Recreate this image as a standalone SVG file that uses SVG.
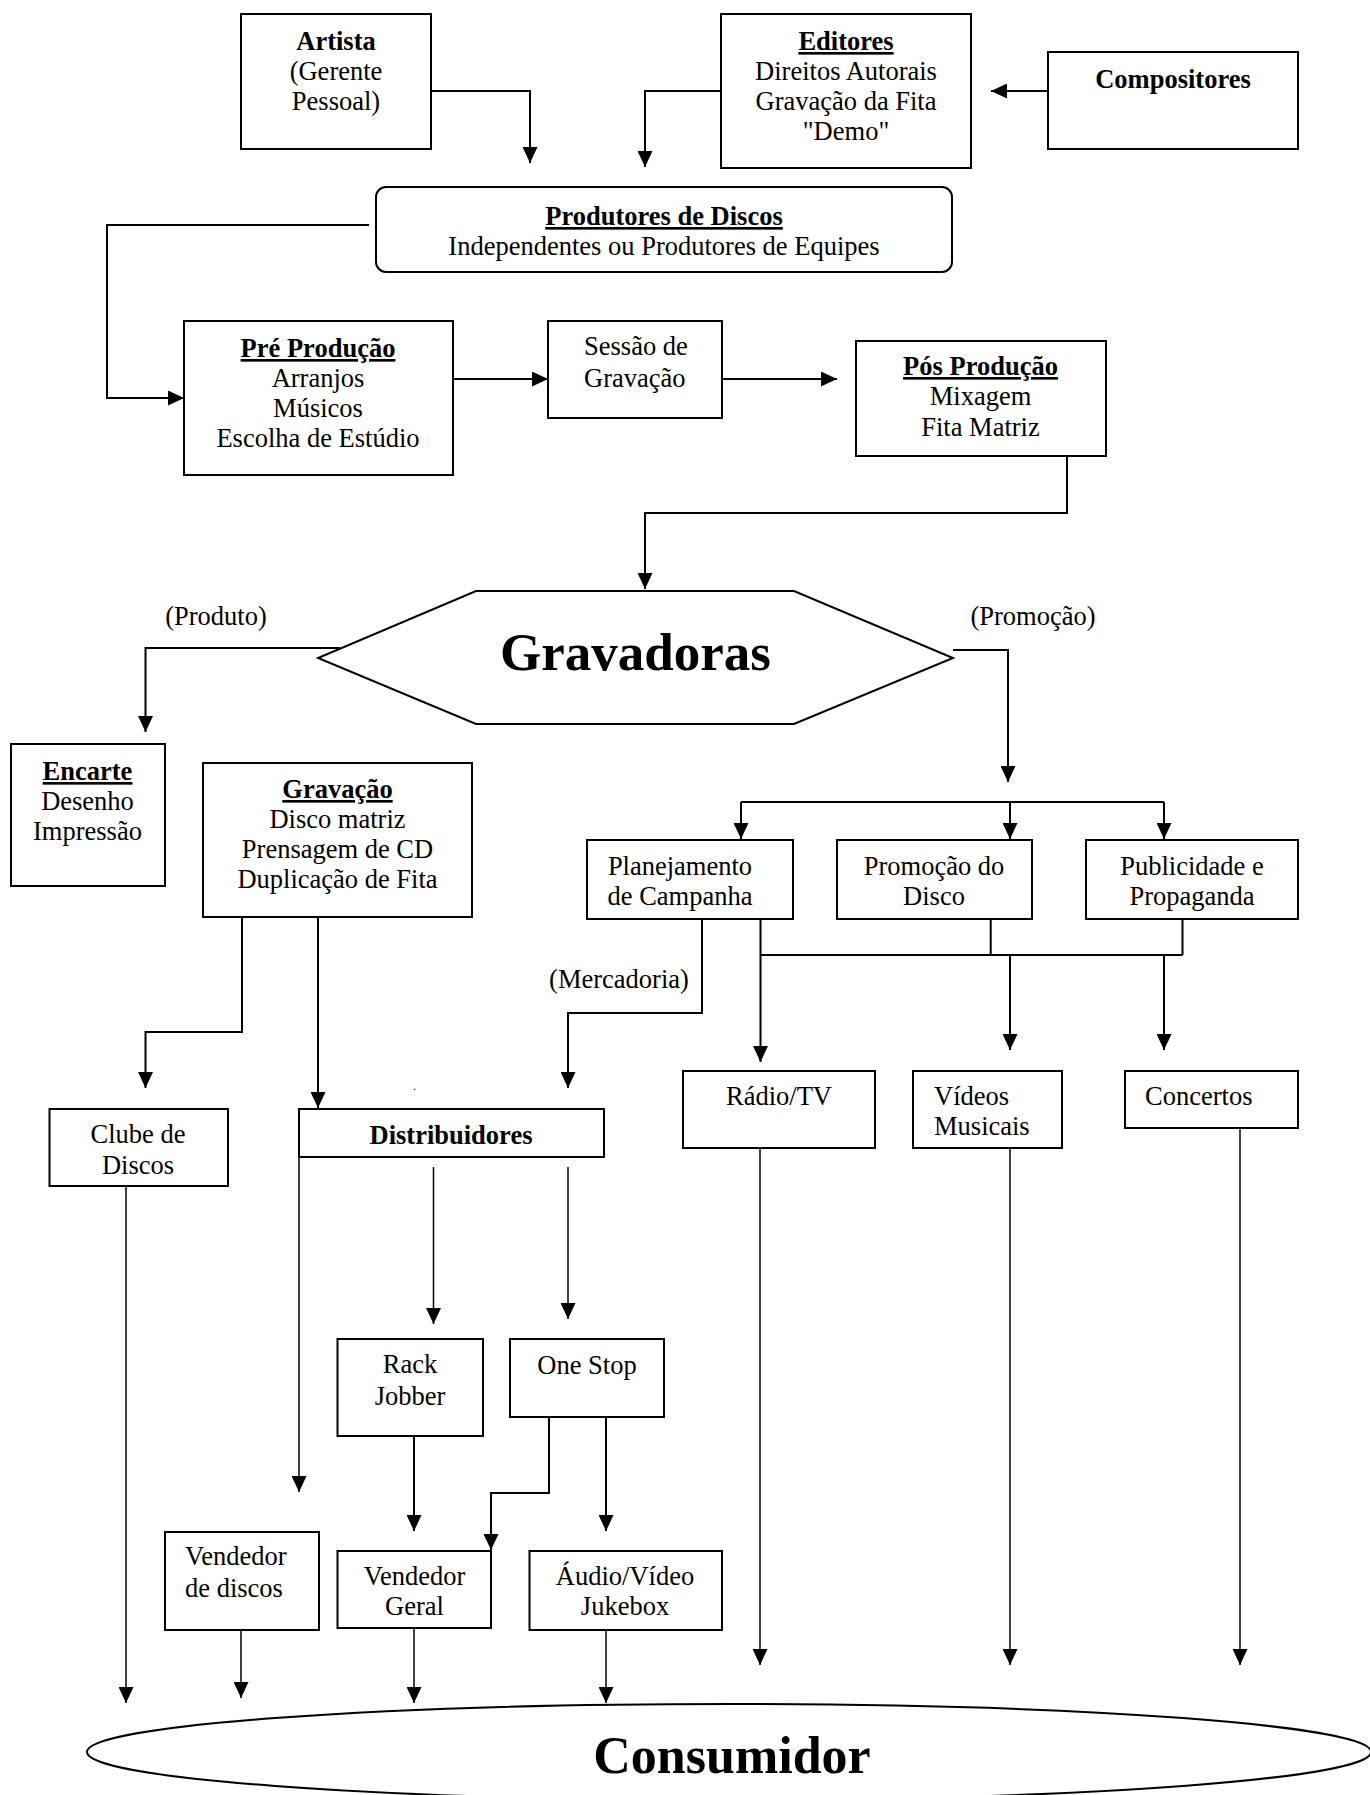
<svg xmlns="http://www.w3.org/2000/svg" width="1370" height="1795" viewBox="0 0 1370 1795">
<defs>
<marker id="ah" markerUnits="userSpaceOnUse" markerWidth="16" markerHeight="15" refX="16" refY="7.5" orient="auto">
<path d="M0,0 L16,7.5 L0,15 z" fill="#000"/>
</marker>
<style>
text{font-family:"Liberation Serif","Times New Roman",serif;font-size:26.5px;fill:#000}
.c{text-anchor:middle}
.b{font-weight:bold}
.u{text-decoration:underline}
.box{fill:#fff;stroke:#000;stroke-width:2}
.ln{fill:none;stroke:#000;stroke-width:2}
.lt{fill:none;stroke:#000;stroke-width:1.5}
.ar{marker-end:url(#ah)}
</style>
</defs>
<rect width="1370" height="1795" fill="#fff"/>

<g id="connectors">
<path class="ln ar" d="M431,91 H530 V163"/>
<path class="ln ar" d="M721,91 H645 V167"/>
<path class="ln ar" d="M1048,91 H991"/>
<path class="ln ar" d="M369,225 H107 V398 H184"/>
<path class="ln ar" d="M453,379 H548"/>
<path class="ln ar" d="M722,379 H837"/>
<path class="ln ar" d="M1067,456 V513 H645 V589"/>
<path class="ln ar" d="M340,648 H145.5 V732"/>
<path class="ln ar" d="M953,650 H1008 V782"/>
<path class="ln" d="M741,802 H1164"/>
<path class="ln ar" d="M741,802 V839"/>
<path class="ln ar" d="M1010,802 V839"/>
<path class="ln ar" d="M1164,802 V839"/>
<path class="ln ar" d="M242,917 V1032 H145.5 V1088"/>
<path class="ln ar" d="M318,917 V1108"/>
<path class="ln ar" d="M702,919 V1013 H568 V1088"/>
<path class="ln ar" d="M760.5,919 V1062"/>
<path class="ln" d="M990.7,919 V955 M1182.5,919 V955 M760.5,955 H1182.5"/>
<path class="ln ar" d="M1010,955 V1050"/>
<path class="ln ar" d="M1164,955 V1050"/>
<path class="lt ar" d="M126,1186 V1703"/>
<path class="lt ar" d="M299,1157 V1492"/>
<path class="lt ar" d="M433.5,1167 V1324"/>
<path class="lt ar" d="M568,1167 V1319"/>
<path class="ln ar" d="M414,1436 V1531"/>
<path class="ln ar" d="M549,1417 V1493 H491 V1550"/>
<path class="ln ar" d="M606,1417 V1531"/>
<path class="lt ar" d="M760,1148 V1665"/>
<path class="lt ar" d="M1010,1148 V1665"/>
<path class="lt ar" d="M1240,1128 V1665"/>
<path class="lt ar" d="M241,1627 V1698"/>
<path class="lt ar" d="M414,1628 V1703"/>
<path class="lt ar" d="M606,1627 V1703"/>
</g>

<g id="artista">
<rect class="box" x="241" y="14" width="190" height="135"/>
<text class="c b" x="336" y="50">Artista</text>
<text class="c" x="336" y="80">(Gerente</text>
<text class="c" x="336" y="110">Pessoal)</text>
</g>
<g id="editores">
<rect class="box" x="721" y="14" width="250" height="154"/>
<text class="c b u" x="846" y="50">Editores</text>
<text class="c" x="846" y="80">Direitos Autorais</text>
<text class="c" x="846" y="110">Gravação da Fita</text>
<text class="c" x="846" y="140">"Demo"</text>
</g>
<g id="compositores">
<rect class="box" x="1048" y="52" width="250" height="97"/>
<text class="c b" x="1173" y="88">Compositores</text>
</g>
<g id="produtores">
<rect class="box" x="376" y="187" width="576" height="85" rx="10" ry="10"/>
<text class="c b u" x="664" y="225">Produtores de Discos</text>
<text class="c" x="664" y="255">Independentes ou Produtores de Equipes</text>
</g>
<g id="preproducao">
<rect class="box" x="184" y="321" width="269" height="154"/>
<text class="c b u" x="318" y="357">Pré Produção</text>
<text class="c" x="318" y="387">Arranjos</text>
<text class="c" x="318" y="417">Músicos</text>
<text class="c" x="318" y="447">Escolha de Estúdio</text>
</g>
<g id="sessao">
<rect class="box" x="548" y="321" width="174" height="97"/>
<text x="584" y="355">Sessão de</text>
<text x="584" y="387">Gravação</text>
</g>
<g id="posproducao">
<rect class="box" x="856" y="341" width="250" height="115"/>
<text class="c b u" x="980.5" y="375">Pós Produção</text>
<text class="c" x="980.5" y="405">Mixagem</text>
<text class="c" x="980.5" y="436">Fita Matriz</text>
</g>
<g id="gravadoras">
<polygon class="box" points="476,591 794,591 953,658 794,724 476,724 318,658"/>
<text class="c b" x="635.5" y="670" style="font-size:53px">Gravadoras</text>
</g>
<g id="labels">
<text class="c" x="216" y="625">(Produto)</text>
<text class="c" x="1033" y="625">(Promoção)</text>
<text class="c" x="619" y="988">(Mercadoria)</text>
<text x="413" y="1090" style="font-size:12px">.</text>
</g>
<g id="encarte">
<rect class="box" x="11" y="744" width="154" height="142"/>
<text class="c b u" x="87.5" y="780">Encarte</text>
<text class="c" x="87.5" y="810">Desenho</text>
<text class="c" x="87.5" y="840">Impressão</text>
</g>
<g id="gravacao">
<rect class="box" x="203" y="763" width="269" height="154"/>
<text class="c b u" x="337.5" y="798">Gravação</text>
<text class="c" x="337.5" y="828">Disco matriz</text>
<text class="c" x="337.5" y="858">Prensagem de CD</text>
<text class="c" x="337.5" y="888">Duplicação de Fita</text>
</g>
<g id="planejamento">
<rect class="box" x="587" y="840" width="206" height="79"/>
<text class="c" x="680" y="875">Planejamento</text>
<text class="c" x="680" y="905">de Campanha</text>
</g>
<g id="promocaodisco">
<rect class="box" x="837" y="840" width="195" height="79"/>
<text class="c" x="934" y="875">Promoção do</text>
<text class="c" x="934" y="905">Disco</text>
</g>
<g id="publicidade">
<rect class="box" x="1086" y="840" width="212" height="79"/>
<text class="c" x="1192" y="875">Publicidade e</text>
<text class="c" x="1192" y="905">Propaganda</text>
</g>
<g id="clube">
<rect class="box" x="49.5" y="1109" width="178.5" height="77"/>
<text class="c" x="138" y="1143">Clube de</text>
<text class="c" x="138" y="1174">Discos</text>
</g>
<g id="distribuidores">
<rect class="box" x="299" y="1109" width="305" height="48"/>
<text class="c b" x="451" y="1144">Distribuidores</text>
</g>
<g id="radiotv">
<rect class="box" x="683" y="1071" width="192" height="77"/>
<text class="c" x="779" y="1105">Rádio/TV</text>
</g>
<g id="videos">
<rect class="box" x="913" y="1071" width="149" height="77"/>
<text x="934" y="1105">Vídeos</text>
<text x="934" y="1135">Musicais</text>
</g>
<g id="concertos">
<rect class="box" x="1125" y="1071" width="173" height="57"/>
<text x="1145" y="1105">Concertos</text>
</g>
<g id="rackjobber">
<rect class="box" x="337.5" y="1339" width="145.5" height="97"/>
<text class="c" x="410" y="1373">Rack</text>
<text class="c" x="410" y="1405">Jobber</text>
</g>
<g id="onestop">
<rect class="box" x="510" y="1339" width="154" height="78"/>
<text class="c" x="587" y="1374">One Stop</text>
</g>
<g id="vendedordiscos">
<rect class="box" x="165" y="1532" width="154" height="98"/>
<text x="185" y="1565">Vendedor</text>
<text x="185" y="1597">de discos</text>
</g>
<g id="vendedorgeral">
<rect class="box" x="337.5" y="1551" width="153.5" height="77"/>
<text class="c" x="414.5" y="1585">Vendedor</text>
<text class="c" x="414.5" y="1615">Geral</text>
</g>
<g id="audiovideo">
<rect class="box" x="529.5" y="1551" width="192.5" height="79"/>
<text class="c" x="625" y="1585">Áudio/Vídeo</text>
<text class="c" x="625" y="1615">Jukebox</text>
</g>
<g id="consumidor">
<ellipse class="box" cx="729" cy="1752" rx="642" ry="48"/>
<text class="c b" x="732" y="1773" style="font-size:52px">Consumidor</text>
</g>
</svg>
